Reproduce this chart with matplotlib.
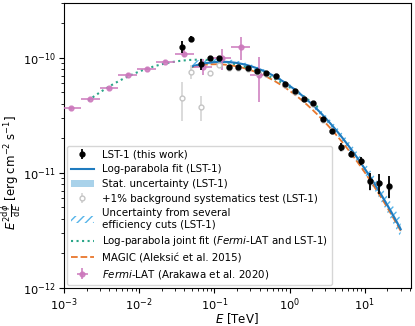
import numpy as np
import matplotlib
matplotlib.use('Agg')
import matplotlib.pyplot as plt
from matplotlib.patches import Patch
from matplotlib.lines import Line2D

# LST-1 flux points (TeV, erg cm-2 s-1 in units of 1e-11)
lst_E = [0.037, 0.049, 0.066, 0.088, 0.117, 0.156, 0.208, 0.277, 0.37, 0.49, 0.66, 0.87,
         1.17, 1.56, 2.08, 2.77, 3.7, 4.9, 6.6, 8.8, 11.7, 15.6, 20.8]
lst_F = [12.5, 14.6, 8.8, 10.0, 9.9, 8.4, 8.4, 8.1, 7.7, 7.4, 7.0, 5.9,
         5.1, 4.4, 4.05, 2.93, 2.32, 1.67, 1.46, 1.27, 0.85, 0.82, 0.77]
lst_err = [1.55, 0.8, 0.9, 0.3, 0.25, 0.2, 0.15, 0.15, 0.12, 0.1, 0.1, 0.1,
           0.08, 0.08, 0.07, 0.07, 0.07, 0.13, 0.08, 0.1, 0.14, 0.16, 0.17]

# +1% background systematics test
sys_F = [4.46, 7.6, 3.73, 7.37, 8.7, 8.1, 8.2, 8.0, 7.6, 7.3, 6.9, 5.85,
         5.05, 4.37, 4.0, 2.9, 2.3, 1.65, 1.45, 1.26, 0.84, 0.81, 0.76]
sys_err = [1.65, 1.1, 0.9, 0.3, 0.25, 0.2, 0.15, 0.15, 0.12, 0.1, 0.1, 0.1,
           0.08, 0.08, 0.07, 0.07, 0.07, 0.13, 0.08, 0.1, 0.14, 0.16, 0.17]

# Fermi-LAT (Arakawa et al. 2020)
fermi_E = [1.26e-3, 2.24e-3, 3.98e-3, 7.08e-3, 0.0126, 0.0224, 0.0398, 0.0708, 0.126, 0.224, 0.398]
fermi_F = [3.65, 4.37, 5.45, 7.16, 8.02, 9.23, 10.9, 8.4, 9.9, 12.4, 7.1]
fermi_err = [0.1, 0.1, 0.15, 0.15, 0.2, 0.3, 0.8, 1.3, 2.0, 2.8, 3.0]
fermi_halfbin = 0.125  # dex

# log-parabola params: log10(E^2 dN/dE) = a + b*x + c*x^2, x = log10(E/TeV)
lst_fit = (-10.243, -0.4635, -0.2577)
lst_stat_hi = (-10.239, -0.4615, -0.2517)
lst_stat_lo = (-10.247, -0.4655, -0.2637)
lst_cuts_hi = (-10.228, -0.452, -0.2320)
lst_cuts_lo = (-10.256, -0.4800, -0.2740)
joint_fit = (-10.256, -0.3972, -0.1645)
magic_fit = (-10.286, -0.47, -0.24)

def logpar(E, p):
    x = np.log10(E)
    return 10 ** (p[0] + p[1] * x + p[2] * x ** 2)

c_blue = '#1f7bbf'
c_light = '#a9d2ea'
c_hatch = '#56b4e9'
c_green = '#2aa588'
c_orange = '#e8762c'
c_pink = '#cc78bc'

plt.rcParams['hatch.linewidth'] = 1.0
plt.rcParams['hatch.color'] = c_hatch
fig = plt.figure(figsize=(4.15, 3.26), dpi=100)
ax = fig.add_axes([0.154, 0.117, 0.836, 0.874])

E_lst = np.logspace(np.log10(0.05), np.log10(30), 200)
E_joint = np.logspace(np.log10(2.1e-3), np.log10(2.5), 200)
E_magic = np.logspace(np.log10(0.05), np.log10(30), 200)

ax.fill_between(E_lst, logpar(E_lst, lst_cuts_lo), logpar(E_lst, lst_cuts_hi),
                facecolor='none', edgecolor=c_hatch, hatch='////', linewidth=0, zorder=1)
ax.fill_between(E_lst, logpar(E_lst, lst_stat_lo), logpar(E_lst, lst_stat_hi),
                color=c_light, linewidth=0, zorder=2)
ax.plot(E_magic, logpar(E_magic, magic_fit), '--', color=c_orange, lw=1.3, zorder=3)
ax.plot(E_joint, logpar(E_joint, joint_fit), ':', color=c_green, lw=1.5, zorder=3)
ax.plot(E_lst, logpar(E_lst, lst_fit), '-', color=c_blue, lw=1.5, zorder=4)

E_arr = np.array(fermi_E)
xlo = E_arr * (1 - 10 ** -fermi_halfbin)
xhi = E_arr * (10 ** fermi_halfbin - 1)
ax.errorbar(fermi_E, np.array(fermi_F) * 1e-11, xerr=[xlo, xhi], yerr=np.array(fermi_err) * 1e-11,
            fmt='o', ms=3.5, color=c_pink, ecolor=c_pink, elinewidth=1.3, alpha=0.85, zorder=5)

ax.errorbar(lst_E, np.array(sys_F) * 1e-11, yerr=np.array(sys_err) * 1e-11, fmt='o', ms=3.5,
            mfc='white', mec='#c4c4c4', ecolor='#d8d8d8', elinewidth=1.3, zorder=5)
ax.errorbar(lst_E, np.array(lst_F) * 1e-11, yerr=np.array(lst_err) * 1e-11, fmt='o', ms=3.5,
            color='black', elinewidth=1.3, zorder=6)

ax.set_xscale('log')
ax.set_yscale('log')
ax.set_xlim(1e-3, 41)
ax.set_ylim(1e-12, 3e-10)
ax.tick_params(labelsize=8.2, pad=2.5)
ax.set_xlabel(r'$E$ [TeV]', fontsize=8.5, labelpad=-1.5)
ax.set_ylabel(r'$E^2\frac{\mathrm{d}\phi}{\mathrm{d}E}$ [$\mathrm{erg\;cm^{-2}\;s^{-1}}$]', fontsize=8.5)
ax.yaxis.set_label_coords(-0.118, 0.405)

h_lst = ax.errorbar([], [], yerr=[], fmt='o', ms=3.5, color='black', elinewidth=1.3)
h_fit = Line2D([], [], color=c_blue, lw=1.5)
h_stat = Patch(facecolor=c_light, edgecolor='none')
h_sys = ax.errorbar([], [], yerr=[], fmt='o', ms=3.5, mfc='white', mec='#c4c4c4', ecolor='#d8d8d8', elinewidth=1.3)
h_cuts = Patch(facecolor='none', edgecolor=c_hatch, hatch='////', linewidth=0)
h_joint = Line2D([], [], color=c_green, lw=1.5, ls=':')
h_magic = Line2D([], [], color=c_orange, lw=1.3, ls='--')
h_fermi = ax.errorbar([], [], xerr=[], yerr=[], fmt='o', ms=3.5, color=c_pink, elinewidth=1.3, alpha=0.85)

ax.legend([h_lst, h_fit, h_stat, h_sys, h_cuts, h_joint, h_magic, h_fermi],
          ['LST-1 (this work)', 'Log-parabola fit (LST-1)', 'Stat. uncertainty (LST-1)',
           '+1% background systematics test (LST-1)',
           'Uncertainty from several\nefficiency cuts (LST-1)',
           r'Log-parabola joint fit ($\it{Fermi}$-LAT and LST-1)',
           'MAGIC (Aleksić et al. 2015)',
           r'$\it{Fermi}$-LAT (Arakawa et al. 2020)'],
          loc='lower left', fontsize=7.4, borderaxespad=0.3, handlelength=2.2, labelspacing=0.45)

fig.savefig('out.png', dpi=100)
